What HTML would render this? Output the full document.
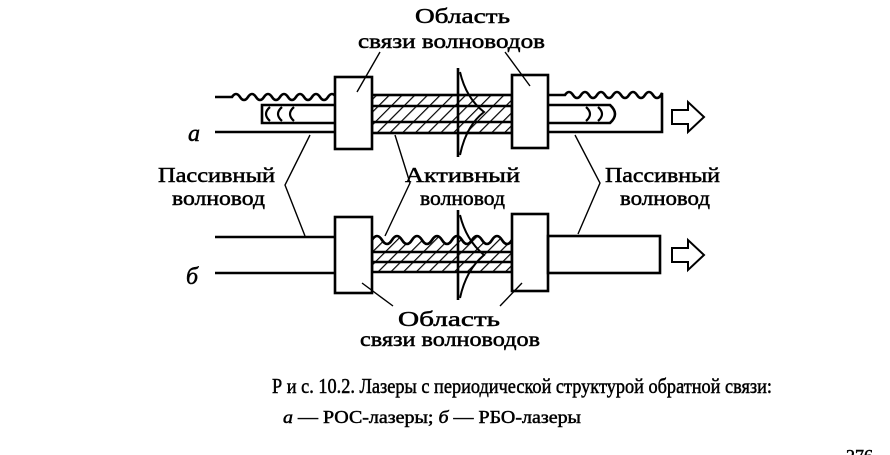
<!DOCTYPE html>
<html><head><meta charset="utf-8"><style>
html,body{margin:0;padding:0;background:#fff;}
svg{display:block;}
text{font-family:"Liberation Serif",serif;fill:#000;stroke:#000;stroke-width:0.5;}
</style></head><body>
<svg width="890" height="455" viewBox="0 0 890 455" xmlns="http://www.w3.org/2000/svg">
<defs>
<pattern id="h" patternUnits="userSpaceOnUse" width="9" height="9" patternTransform="rotate(45)">
<rect width="9" height="9" fill="#fff"/><line x1="0" y1="0" x2="0" y2="9" stroke="#000" stroke-width="2.4"/>
</pattern>
</defs>
<g stroke="#000" fill="none" stroke-width="2.6">
<!-- Row a -->
<path d="M215,97 L232,97 q4,-6 8,0 t8,0 t8,0 t8,0 t8,0 t8,0 t8,0 t8,0 t8,0 t8,0 t8,0 t8,0 t8,0 t8,0 L336,97"/>
<line x1="215" y1="132" x2="336" y2="132"/>
<path d="M336,105 L262,105 L262,123 L336,123"/>
<path d="M270,107 q-8,7 0,14 M282,107 q-8,7 0,14 M294,107 q-8,7 0,14" stroke-width="2.2"/>
<rect x="372" y="95" width="140" height="38" fill="url(#h)"/>
<line x1="372" y1="106" x2="512" y2="106"/><line x1="372" y1="122" x2="512" y2="122"/>
<rect x="335" y="77" width="37" height="72" fill="#fff"/>
<rect x="512" y="75" width="36" height="73" fill="#fff"/>
<path d="M548,95 L565,95 q4,-6 8,0 t8,0 t8,0 t8,0 t8,0 t8,0 t8,0 t8,0 t8,0 t8,0 t8,0 t8,0 L662,93 L662,132 L548,132"/>
<path d="M548,105 L610,105 q10,9 0,18 L548,123"/>
<path d="M586,107 q8,7 0,14 M598,107 q8,7 0,14" stroke-width="2.2"/>
<path d="M672,110 L688,110 L688,102 L704,117 L688,132 L688,124 L672,124 Z" stroke-width="2"/>
<!-- mode profile -->
<line x1="458" y1="68" x2="458" y2="157"/>
<path d="M460,72 Q466,98 484,112 Q466,126 460,155" stroke-width="2"/>
<!-- Row б -->
<line x1="215" y1="237" x2="336" y2="237"/>
<line x1="215" y1="273" x2="336" y2="273"/>
<path d="M372,240 q5,-8 10,0 t10,0 t10,0 t10,0 t10,0 t10,0 t10,0 t10,0 t10,0 t10,0 t10,0 t10,0 t10,0 t10,0 L512,272 L372,272 Z" fill="url(#h)"/>
<line x1="372" y1="252" x2="512" y2="252"/><line x1="372" y1="262" x2="512" y2="262"/>
<rect x="335" y="217" width="37" height="76" fill="#fff"/>
<rect x="512" y="214" width="36" height="77" fill="#fff"/>
<rect x="548" y="236" width="112" height="37"/>
<path d="M672,248 L688,248 L688,240 L704,255 L688,270 L688,262 L672,262 Z" stroke-width="2"/>
<line x1="458" y1="210" x2="458" y2="300"/>
<path d="M460,215 Q466,240 484,255 Q466,270 460,298" stroke-width="2"/>
<!-- leaders -->
<g stroke-width="1.4">
<line x1="380" y1="52" x2="357" y2="92"/>
<line x1="505" y1="52" x2="530" y2="86"/>
<polyline points="310,135 285,185 305,236"/>
<polyline points="395,135 410,183 385,236"/>
<polyline points="575,135 600,183 578,234"/>
<line x1="362" y1="283" x2="393" y2="306"/>
<line x1="522" y1="283" x2="500" y2="306"/>
</g>
</g>
<g font-size="21" lengthAdjust="spacingAndGlyphs">
<text x="415" y="23" textLength="95" lengthAdjust="spacingAndGlyphs">Область</text>
<text x="358" y="48" textLength="187" lengthAdjust="spacingAndGlyphs">связи волноводов</text>
<text x="158" y="182" textLength="117" lengthAdjust="spacingAndGlyphs">Пассивный</text>
<text x="172" y="205" textLength="93" lengthAdjust="spacingAndGlyphs">волновод</text>
<text x="405" y="182" textLength="115" lengthAdjust="spacingAndGlyphs">Активный</text>
<text x="420" y="205" textLength="85" lengthAdjust="spacingAndGlyphs">волновод</text>
<text x="605" y="182" textLength="115" lengthAdjust="spacingAndGlyphs">Пассивный</text>
<text x="620" y="205" textLength="90" lengthAdjust="spacingAndGlyphs">волновод</text>
<text x="398" y="326" textLength="102" lengthAdjust="spacingAndGlyphs">Область</text>
<text x="360" y="346" textLength="180" lengthAdjust="spacingAndGlyphs">связи волноводов</text>
<text x="188" y="141" font-style="italic" font-size="24">а</text>
<text x="186" y="284" font-style="italic" font-size="24">б</text>
<text x="272" y="393" font-size="21" textLength="500" lengthAdjust="spacingAndGlyphs">Р и с. 10.2. Лазеры с периодической структурой обратной связи:</text>
<text x="283" y="423" font-size="18" textLength="298" lengthAdjust="spacingAndGlyphs"><tspan font-style="italic">а</tspan> — РОС-лазеры; <tspan font-style="italic">б</tspan> — РБО-лазеры</text>
<text x="846" y="462" font-size="18">276</text>
</g>
</svg>
</body></html>
